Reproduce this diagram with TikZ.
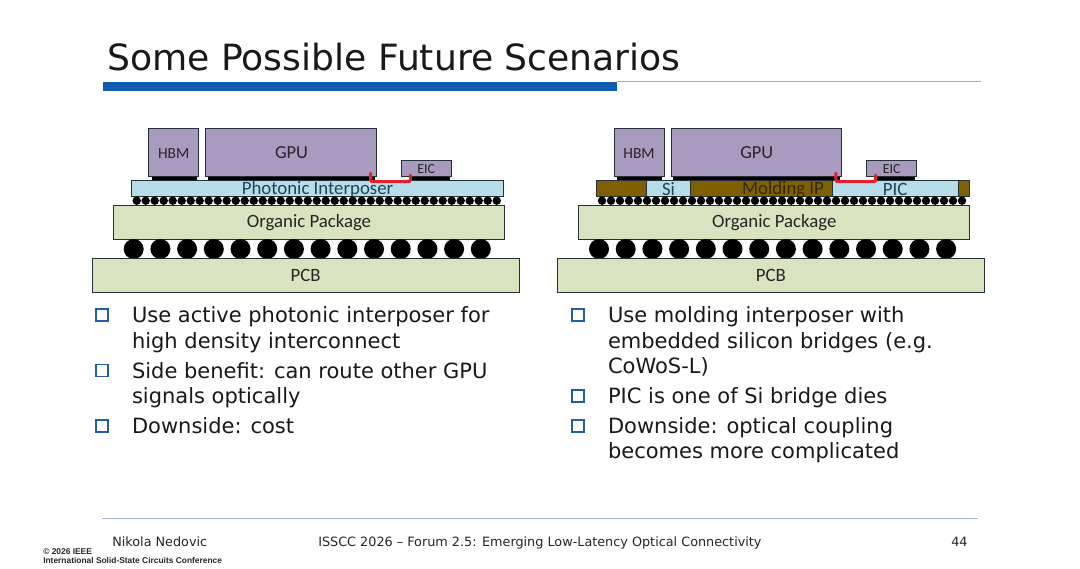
\documentclass[tikz,border=0pt]{standalone}
\usepackage{fontspec}
\usetikzlibrary{calc}
\setmainfont{DejaVu Sans}
\newfontfamily\cali{Carlito}
\newfontfamily\arialf{Liberation Sans}
\definecolor{chipc}{HTML}{A99BBF}
\definecolor{ipc}{HTML}{B7DDE8}
\definecolor{pkgc}{HTML}{D8E3BF}
\definecolor{moldc}{HTML}{7F6000}
\definecolor{bluebar}{HTML}{0F5CB0}
\definecolor{ruleline}{HTML}{8DB3C5}
\definecolor{footline}{HTML}{A5B8CA}
\definecolor{bulletc}{HTML}{1F5FA8}
\definecolor{redc}{HTML}{E0202A}
\definecolor{edgec}{HTML}{262E38}
\definecolor{iptext}{HTML}{1B4558}
\definecolor{moldtext}{HTML}{33280A}
\tikzset{
 x=0.75pt,y=-0.75pt,
 blk/.style={draw=edgec,line width=0.75pt,anchor=north west,inner sep=0,outer sep=0},
 chip/.style={blk,fill=chipc},
 ipbox/.style={blk,fill=ipc},
 pkg/.style={blk,fill=pkgc},
 mold/.style={blk,fill=moldc},
 lab/.style={font=\cali\fontsize{14.1}{14}\selectfont,text=black!85,inner sep=0},
 body/.style={font=\fontsize{15.75}{16}\selectfont,text=black!90,anchor=base west,inner sep=0,outer sep=0},
 foot/.style={font=\fontsize{9.6}{10}\selectfont,text=black!85,anchor=base west,inner sep=0},
 bul/.style={draw=bulletc,line width=1.4pt,minimum size=9pt,inner sep=0,outer sep=0},
 link/.style={draw=redc,line width=2.3pt,line cap=round,rounded corners=1.5pt},
 tiny/.style={font=\arialf\bfseries\fontsize{6.3}{6}\selectfont,anchor=base west,inner sep=0,text=black!85},
}
\newcommand{\pkgset}[2]{%
 \begin{scope}[shift={(#2,0)}]
  \node[chip,minimum width=37.5pt,minimum height=36.3pt] (#1hbm) at (148.7,128.3) {};
  \node[lab,font=\cali\fontsize{11.6}{12}\selectfont] at ($(#1hbm.center)+(0,1)$) {HBM};
  \node[chip,minimum width=128.2pt,minimum height=36.3pt] (#1gpu) at (205.7,128.3) {};
  \node[lab,font=\cali\fontsize{13.8}{14}\selectfont] at (291.5,152.5) {GPU};
  \node[chip,minimum width=37.5pt,minimum height=12pt] (#1eic) at (401.3,160.7) {};
  \node[lab,font=\cali\fontsize{10.4}{10}\selectfont] at (#1eic.center) {EIC};
  \fill[black] (151.5,176.7) rectangle (196.5,180);
  \fill[black] (207.7,176.7) rectangle (374.7,180);
  \fill[black] (410,176.7) rectangle (449.5,180);
  \foreach \i in {0,...,40} {\fill[black] ({136.7+9*\i},200.7) circle[radius=4.25];}
  \node[pkg,minimum width=293.5pt,minimum height=25.5pt] (#1org) at (113.3,205) {};
  \node[lab] at ($(#1org.center)+(0,1)$) {Organic Package};
  \foreach \i in {0,...,13} {\fill[black] ({133.7+26.7*\i},249) circle[radius=10];}
  \node[pkg,minimum width=320.3pt,minimum height=25.5pt] (#1pcb) at (92,258.3) {};
  \node[lab] at (#1pcb.center) {PCB};
 \end{scope}}
\newcommand{\redlink}[1]{%
 \coordinate (#1a) at ($(#1gpu.south east)+(-6,-3.5)$);
 \coordinate (#1b) at ($(#1eic.south west)+(9,-1.5)$);
 \coordinate (#1c) at ($(#1a)+(0,8.5)$);
 \draw[link] (#1a) -- (#1c) -| (#1b);}
\begin{document}
\begin{tikzpicture}
\useasboundingbox (0,0) rectangle (1080,568);
\fill[white] (0,0) rectangle (1080,568);
% title
\node[font=\fontsize{27.1}{28}\selectfont,text=black!90,anchor=base west,inner sep=0] (title) at (107,70) {Some Possible Future Scenarios};
\coordinate (ruleL) at (617,81.5); \coordinate (ruleR) at (981,81.5);
\draw[ruleline,line width=0.9pt] (ruleL) -- (ruleR);
\fill[bluebar] (102.5,81.7) rectangle (617,91);
% left
\node[ipbox,minimum width=279pt,minimum height=12pt] (Lip) at (131,180.3) {};
\pkgset{L}{0}
\node[lab,text=iptext] at (317.5,189.5) {Photonic Interposer};
\redlink{L}
% right
\node[mold,minimum width=280pt,minimum height=12pt] (Rmold) at (596,180) {};
\node[ipbox,minimum width=33.7pt,minimum height=12pt] (Rsi) at (646,180) {};
\node[ipbox,minimum width=94.7pt,minimum height=12pt] (Rpic) at (832,180) {};
\pkgset{R}{465.3}
\node[lab,text=iptext] at ($(Rsi.center)+(0,1)$) {Si};
\node[lab,text=moldtext] at (783,189.5) {Molding IP};
\node[lab,text=iptext] at ($(Rpic.center)+(0,1)$) {PIC};
\redlink{R}
% bullets
\node[bul] (b1) at (101.7,315) {};
\node[body] at (132,322.5) {Use active photonic interposer for};
\node[body] at (132,348) {high density interconnect};
\node[bul] (b2) at (101.7,370.5) {};
\node[body] at (132,378) {Side benefit: can route other GPU};
\node[body] at (132,403) {signals optically};
\node[bul] (b3) at (101.7,426) {};
\node[body] at (132,433) {Downside: cost};
\node[bul] (b4) at (577.7,315) {};
\node[body] at (608,322.5) {Use molding interposer with};
\node[body] at (608,348) {embedded silicon bridges (e.g.};
\node[body] at (608,373) {CoWoS-L)};
\node[bul] (b5) at (577.7,396) {};
\node[body] at (608,403) {PIC is one of Si bridge dies};
\node[bul] (b6) at (577.7,426) {};
\node[body] at (608,433) {Downside: optical coupling};
\node[body] at (608,458) {becomes more complicated};
% footer
\coordinate (footL) at (102,518.5); \coordinate (footR) at (978,518.5);
\draw[footline,line width=0.8pt] (footL) -- (footR);
\node[foot] at (112,546) {Nikola Nedovic};
\node[foot] at (318,546) {ISSCC 2026 – Forum 2.5: Emerging Low-Latency Optical Connectivity};
\node[foot] at (951,546) {44};
\node[tiny] at (43,554) {© 2026 IEEE};
\node[tiny] at (43,563.5) {International Solid-State Circuits Conference};
\end{tikzpicture}
\end{document}
